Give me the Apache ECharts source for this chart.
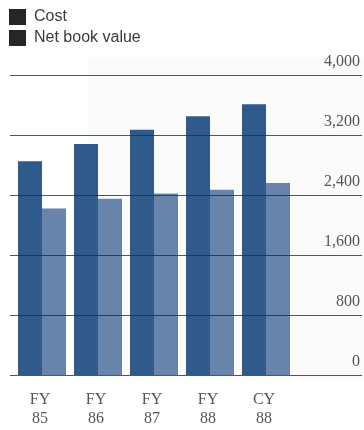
<!DOCTYPE html>
<html>
<head>
<meta charset="utf-8">
<style>
  html, body { margin: 0; padding: 0; background: #ffffff; }
  #chart { width: 364px; height: 430px; }
</style>
<script src="https://cdn.jsdelivr.net/npm/echarts@6/dist/echarts.min.js"></script>
</head>
<body>
<div id="chart"></div>
<script>
// Fixed asset values by fiscal year
const categories = ['FY\n85', 'FY\n86', 'FY\n87', 'FY\n88', 'CY\n88'];
const costValues = [2850, 3080, 3270, 3450, 3610];
const netBookValues = [2220, 2350, 2420, 2470, 2560];
const yTicks = { min: 0, max: 4000, interval: 800 };

const serif = '"Liberation Serif", "DejaVu Serif", serif';
const sans = '"Liberation Sans", Arial, sans-serif';

const chart = echarts.init(document.getElementById('chart'), null, { renderer: 'canvas' });

chart.setOption({
  animation: false,
  backgroundColor: '#ffffff',
  graphic: [{
    type: 'rect',
    left: 88, top: 58,
    shape: { width: 276, height: 320 },
    style: { fill: '#fbfbfb' },
    z: -10
  }],
  legend: {
    orient: 'vertical',
    left: 9, top: 9,
    padding: 0,
    itemWidth: 17, itemHeight: 16, itemGap: 5,
    icon: 'rect',
    textStyle: { fontFamily: sans, fontSize: 16, color: '#3a3a3a', padding: [0, 0, 0, 3] },
    data: [
      { name: 'Cost', itemStyle: { color: '#262626' } },
      { name: 'Net book value', itemStyle: { color: '#262626' } }
    ]
  },
  grid: [
    // full-width grid carrying the value ruling and labels
    { left: 10, right: 2, top: 75, bottom: 55 },
    // inner grid carrying the bars
    { left: 14, right: 70, top: 75, bottom: 55 }
  ],
  xAxis: [
    { gridIndex: 0, type: 'value', min: 0, max: 1, show: false },
    {
      gridIndex: 1, type: 'category', data: categories,
      axisLine: { show: false }, axisTick: { show: false },
      axisLabel: {
        margin: 15, fontFamily: serif, fontSize: 16, lineHeight: 19,
        color: '#555', padding: [0, 4, 0, 0]
      }
    }
  ],
  yAxis: [
    {
      gridIndex: 0, type: 'value', position: 'right',
      min: yTicks.min, max: yTicks.max, interval: yTicks.interval,
      z: 5,
      axisLine: { show: false }, axisTick: { show: false },
      splitLine: { show: true, lineStyle: { color: 'rgba(45,45,45,0.8)', width: 1 } },
      axisLabel: {
        inside: true, align: 'right', verticalAlign: 'bottom',
        margin: 2, padding: [0, 0, 5, 0],
        fontFamily: serif, fontSize: 16, color: '#555',
        formatter: v => v.toLocaleString('en-US')
      }
    },
    {
      gridIndex: 1, type: 'value',
      min: yTicks.min, max: yTicks.max, interval: yTicks.interval,
      show: false
    }
  ],
  series: [
    {
      name: 'Cost', type: 'bar', xAxisIndex: 1, yAxisIndex: 1,
      data: costValues, barWidth: 24, barGap: '0%',
      itemStyle: { color: '#2f5a8b' }
    },
    {
      name: 'Net book value', type: 'bar', xAxisIndex: 1, yAxisIndex: 1,
      data: netBookValues, barWidth: 24, barGap: '0%',
      itemStyle: { color: '#6984aa' }
    }
  ]
});
</script>
</body>
</html>
